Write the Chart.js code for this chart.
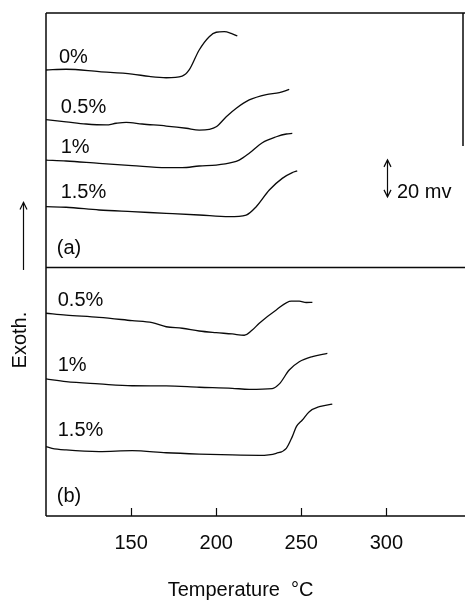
<!DOCTYPE html>
<html>
<head>
<meta charset="utf-8">
<script src="https://cdn.jsdelivr.net/npm/chart.js@4.4.0/dist/chart.umd.min.js"></script>
<style>
  html, body { margin: 0; padding: 0; background: #fff; }
  #c { display: block; }
</style>
</head>
<body>
<canvas id="c" width="465" height="602"></canvas>
<script>
// Temperature axis (°C)
const xMin = 100, xMax = 345;
const xTicks = [150, 200, 250, 300];

// Signal axis (mV); traces are stacked with vertical offsets
const yMin = 0, yMax = 271.9;
const panelSplit = 134.6;          // boundary between panel (a) and panel (b)

// Panel (a) traces: temperature (°C) and DSC signal (mV)
const tA0  = [100, 111.8, 131.2, 150.6, 160.6, 170.6, 180, 184.1, 190, 195.9, 200, 204.7, 208.8, 212.4];
const yA0  = [241.1, 241.5, 240.2, 238.9, 237.6, 236.9, 237.8, 241.1, 251.9, 259.1, 261.5, 261.8, 260.9, 259.5];

const tA05 = [100, 111.8, 123.5, 135.3, 141.2, 147.1, 156.5, 170.6, 182.4, 190, 195.9, 200, 205.9, 211.8, 219.4, 229.4, 237.1, 242.9];
const yA05 = [214.3, 213.1, 211.9, 211.4, 212.3, 212.8, 211.9, 210.8, 209.6, 208.6, 209.0, 210.4, 215.8, 220.4, 224.9, 227.8, 228.8, 230.6];

const tA1  = [100, 111.8, 131.2, 150.6, 170.6, 180, 190, 200, 209.4, 213.5, 219.4, 227.1, 235.3, 241.2, 244.7];
const yA1  = [192.4, 191.9, 190.6, 189.4, 188.3, 188.3, 189.2, 189.7, 191.1, 192.4, 196.1, 201.8, 205.0, 206.5, 206.8];

const tA15 = [100, 111.8, 131.2, 150.6, 170.6, 190, 207.6, 217.6, 223.5, 231.2, 238.8, 244.7, 247.6];
const yA15 = [167.2, 166.9, 165.4, 164.5, 163.6, 162.7, 161.8, 162.7, 167.2, 176.2, 182.5, 185.6, 186.5];

// Panel (b) traces
const tB05 = [100, 111.8, 131.2, 150.6, 162.4, 170.6, 180, 190, 200, 209.4, 216.5, 221.2, 225.3, 235.3, 244.1, 248.8, 252.9, 256.5];
const yB05 = [109.6, 108.6, 107.4, 105.6, 104.5, 102.3, 101.5, 100.0, 99.1, 98.4, 97.7, 100.5, 104.2, 111.4, 116.2, 116.2, 115.4, 115.5];

const tB1  = [100, 111.8, 131.2, 150.6, 170.6, 190, 209.4, 219.4, 232.9, 237.1, 242.9, 248.8, 256.5, 265.3];
const yB1  = [74.1, 72.6, 71.4, 70.4, 70.3, 69.6, 69.0, 68.5, 68.9, 71.4, 78.9, 83.4, 86.2, 87.9];

const tB15 = [100, 103.5, 111.8, 131.2, 150.6, 170.6, 190, 209.4, 225.3, 235.3, 241.2, 244.7, 247.1, 250.6, 254.7, 260.6, 268.2];
const yB15 = [37.5, 36.6, 35.7, 34.8, 35.3, 34.2, 33.5, 33.0, 32.8, 33.9, 36.6, 42.9, 48.3, 51.9, 56.4, 59.1, 60.5];

const pts = (ts, vs) => ts.map((t, i) => ({ x: t, y: vs[i] }));

const FONT = '"Liberation Sans", Arial, Helvetica, sans-serif';
const INK = '#0a0a0a';

const trace = (label, ts, vs) => ({
  label,
  data: pts(ts, vs),
  borderColor: INK,
  borderWidth: 1.3,
  pointRadius: 0,
  fill: false,
  cubicInterpolationMode: 'monotone'
});

const datasets = [
  trace('0%',   tA0,  yA0),
  trace('0.5%', tA05, yA05),
  trace('1%',   tA1,  yA1),
  trace('1.5%', tA15, yA15),
  trace('0.5%', tB05, yB05),
  trace('1%',   tB1,  yB1),
  trace('1.5%', tB15, yB15)
];

// Where each trace name sits (°C, mV)
const traceNameAt = [
  [107.6, 247.8], [108.6, 220.7], [108.6, 199.0], [108.6, 175.1],
  [106.9, 116.5], [106.9, 81.6],  [106.9, 46.1]
];

function arrowHead(ctx, x, y, dir) {
  // dir: -1 points up, +1 points down
  ctx.beginPath();
  ctx.moveTo(x - 3.5, y - dir * 7);
  ctx.lineTo(x, y);
  ctx.lineTo(x + 3.5, y - dir * 7);
  ctx.stroke();
}

const decor = {
  id: 'decor',
  afterDraw(chart) {
    const { ctx, chartArea: a, scales: { x, y } } = chart;
    const W = chart.width;
    const px = t => x.getPixelForValue(t);
    const py = v => y.getPixelForValue(v);

    ctx.save();
    ctx.strokeStyle = INK;
    ctx.fillStyle = INK;
    ctx.lineCap = 'butt';

    // frame and panel divider
    ctx.lineWidth = 1.5;
    const yDiv = Math.round(py(panelSplit)) + 0.5;
    ctx.beginPath();
    ctx.moveTo(a.left, a.top); ctx.lineTo(W, a.top);
    ctx.moveTo(a.left, yDiv); ctx.lineTo(W, yDiv);
    ctx.moveTo(a.left, a.bottom); ctx.lineTo(W, a.bottom);
    ctx.moveTo(a.left, a.top); ctx.lineTo(a.left, a.bottom);
    ctx.moveTo(a.right, a.top); ctx.lineTo(a.right, py(200));
    ctx.stroke();

    // inward tick marks on the temperature axis
    ctx.lineWidth = 1.2;
    ctx.beginPath();
    x.ticks.forEach(tk => {
      const xx = Math.round(px(tk.value)) + 0.5;
      ctx.moveTo(xx, a.bottom);
      ctx.lineTo(xx, a.bottom - 8);
    });
    ctx.stroke();

    // trace names
    ctx.font = '20px ' + FONT;
    ctx.textAlign = 'left';
    ctx.textBaseline = 'middle';
    chart.data.datasets.forEach((ds, i) => {
      const [t, v] = traceNameAt[i];
      ctx.fillText(ds.label, px(t), py(v));
    });

    // panel tags
    ctx.fillText('(a)', px(106.3), py(144.5));
    ctx.fillText('(b)', px(106.3), py(10.3));

    // 20 mV scale bar
    ctx.lineWidth = 1.2;
    const sx = Math.round(px(300.2)) + 0.5;
    const s0 = py(172.5), s1 = py(192.5);
    ctx.beginPath();
    ctx.moveTo(sx, s0); ctx.lineTo(sx, s1);
    ctx.stroke();
    arrowHead(ctx, sx, s1, -1);
    arrowHead(ctx, sx, s0, 1);
    ctx.font = '20px ' + FONT;
    ctx.fillText('20 mv', px(306.2), py(175.1));

    // exotherm direction arrow and label
    const ax = Math.round(px(86.5)) + 0.5;
    ctx.beginPath();
    ctx.moveTo(ax, py(133)); ctx.lineTo(ax, py(169.5));
    ctx.stroke();
    arrowHead(ctx, ax, py(169.5), -1);

    ctx.translate(px(85.3), py(95.1));
    ctx.rotate(-Math.PI / 2);
    ctx.textAlign = 'center';
    ctx.fillText('Exoth.', 0, 0);
    ctx.restore();
  }
};

new Chart(document.getElementById('c'), {
  type: 'line',
  data: { datasets },
  options: {
    responsive: false,
    animation: false,
    devicePixelRatio: 1,
    layout: { padding: { left: 46, right: 2, top: 13, bottom: 0 } },
    plugins: { legend: { display: false }, tooltip: { enabled: false } },
    scales: {
      x: {
        type: 'linear',
        min: xMin,
        max: xMax,
        grid: { display: false, drawTicks: false },
        border: { display: false },
        afterBuildTicks: s => { s.ticks = xTicks.map(v => ({ value: v })); },
        afterFit: s => { s.height = 86; },
        ticks: {
          padding: 15,
          color: INK,
          maxRotation: 0,
          font: { family: FONT, size: 20 },
          callback: v => String(v)
        },
        title: {
          display: true,
          text: 'Temperature  \u00b0C\u00a0\u00a0\u00a0\u00a0\u00a0',
          color: INK,
          font: { family: FONT, size: 20 },
          padding: { top: 0, bottom: 0 }
        }
      },
      y: {
        type: 'linear',
        display: false,
        min: yMin,
        max: yMax
      }
    }
  },
  plugins: [decor]
});
</script>
</body>
</html>
